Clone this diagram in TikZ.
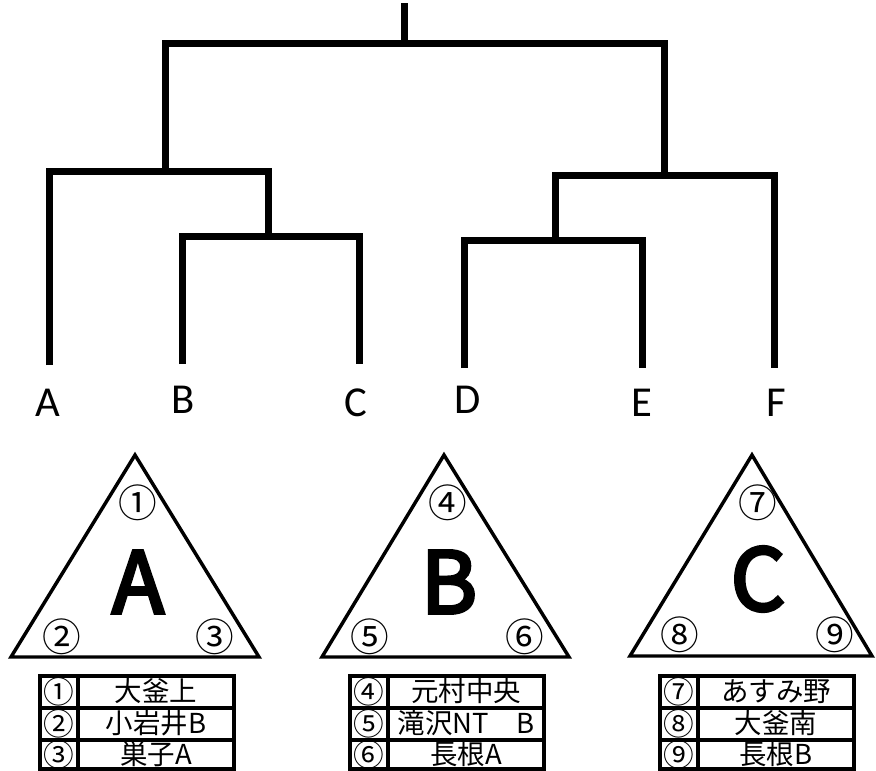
\documentclass[tikz,border=0pt]{standalone}
\usepackage{fontspec}
\setmainfont{Carlito}
\newfontfamily\jp{Noto Sans CJK JP}
\newfontfamily\jpbig[FakeBold=4]{Noto Sans CJK JP}
\begin{document}
\begin{tikzpicture}[x=0.75pt,y=-0.75pt,
  tree/.style={line width=5.25pt, line join=miter, line cap=butt},
  tri/.style={line width=2.6pt, line join=miter},
  tbl/.style={line width=2.6pt},
  leaf/.style={font=\fontsize{32}{32}\selectfont, inner sep=0pt},
  big/.style={font=\jpbig\fontsize{64}{64}\selectfont, inner sep=0pt},
  num/.style={font=\jp\fontsize{29}{29}\selectfont, inner sep=0pt},
  cellnum/.style={font=\jp\fontsize{23}{23}\selectfont, inner sep=0pt},
  cell/.style={font=\jp\fontsize{20.6}{20.6}\selectfont, inner sep=0pt, text height=15.5pt, text depth=2pt}]
\useasboundingbox (0,0) rectangle (876,771);
% ---------- tree ----------
\coordinate (top) at (404,3);
\coordinate (r0) at (404,43);
\coordinate (jl) at (165,43);
\coordinate (jr) at (664,43);
\coordinate (jlb) at (165,171);
\coordinate (la) at (49,171);
\coordinate (lbc) at (268,171);
\coordinate (lbcb) at (268,236);
\coordinate (lb) at (182,236);
\coordinate (lc) at (359,236);
\coordinate (ea) at (49,365);
\coordinate (eb) at (182,364);
\coordinate (ec) at (359,364);
\coordinate (jrb) at (664,175);
\coordinate (rde) at (555,175);
\coordinate (rf) at (774,175);
\coordinate (rdeb) at (555,240);
\coordinate (rd) at (464,240);
\coordinate (re) at (642,240);
\coordinate (ed) at (464,368);
\coordinate (ee) at (642,368);
\coordinate (ef) at (774,368);
\draw[tree] (top) -- (r0);
\draw[tree] (jlb) -- (jl) -- (jr) -- (jrb);
\draw[tree] (ea) -- (la) -- (lbc) -- (lbcb);
\draw[tree] (eb) -- (lb) -- (lc) -- (ec);
\draw[tree] (rdeb) -- (rde) -- (rf) -- (ef);
\draw[tree] (ed) -- (rd) -- (re) -- (ee);
\node[leaf] (nA) at (48,403) {A};
\node[leaf] (nB) at (183,400) {B};
\node[leaf] (nC) at (356,403) {C};
\node[leaf] (nD) at (468,400) {D};
\node[leaf] (nE) at (642,403) {E};
\node[leaf] (nF) at (776,403) {F};
% ---------- triangles ----------
\coordinate (ta1) at (135,455);
\coordinate (ta2) at (11,657);
\coordinate (ta3) at (259,657);
\coordinate (tb1) at (444,455);
\coordinate (tb2) at (322,657);
\coordinate (tb3) at (569,657);
\coordinate (tc1) at (752,455);
\coordinate (tc2) at (630,656);
\coordinate (tc3) at (872,656);
\draw[tri] (ta1) -- (ta2) -- (ta3) -- cycle;
\draw[tri] (tb1) -- (tb2) -- (tb3) -- cycle;
\draw[tri] (tc1) -- (tc2) -- (tc3) -- cycle;
\node[big] (bA) at (138,582) {A};
\node[big] (bB) at (449,582) {B};
\node[big] (bC) at (758,579) {C};
\node[num] (n1) at (138,503) {①};
\node[num] (n2) at (62,637) {②};
\node[num] (n3) at (215,637) {③};
\node[num] (n4) at (448,503) {④};
\node[num] (n5) at (370,637) {⑤};
\node[num] (n6) at (525,637) {⑥};
\node[num] (n7) at (758,503) {⑦};
\node[num] (n8) at (680,635) {⑧};
\node[num] (n9) at (835,635) {⑨};
% ---------- tables ----------
\draw[tbl] (40,676) rectangle (234,769);
\draw[tbl] (78,676) -- (78,769);
\draw[tbl] (40,708) -- (234,708);
\draw[tbl] (40,740) -- (234,740);
\draw[tbl] (350,676) rectangle (544,769);
\draw[tbl] (388,676) -- (388,769);
\draw[tbl] (350,708) -- (544,708);
\draw[tbl] (350,740) -- (544,740);
\draw[tbl] (660,676) rectangle (854,769);
\draw[tbl] (698,676) -- (698,769);
\draw[tbl] (660,708) -- (854,708);
\draw[tbl] (660,740) -- (854,740);
\node[cellnum] (ka1) at (59,692) {①};
\node[cellnum] (ka2) at (59,724) {②};
\node[cellnum] (ka3) at (59,755) {③};
\node[cell] (va1) at (156,692) {大釜上};
\node[cell] (va2) at (156,724) {小岩井B};
\node[cell] (va3) at (156,755) {巣子A};
\node[cellnum] (kb1) at (369,692) {④};
\node[cellnum] (kb2) at (369,724) {⑤};
\node[cellnum] (kb3) at (369,755) {⑥};
\node[cell] (vb1) at (466,692) {元村中央};
\node[cell] (vb2) at (466,724) {滝沢NT　B};
\node[cell] (vb3) at (466,755) {長根A};
\node[cellnum] (kc1) at (679,692) {⑦};
\node[cellnum] (kc2) at (679,724) {⑧};
\node[cellnum] (kc3) at (679,755) {⑨};
\node[cell] (vc1) at (776,692) {あすみ野};
\node[cell] (vc2) at (776,724) {大釜南};
\node[cell] (vc3) at (776,755) {長根B};
\end{tikzpicture}
\end{document}
